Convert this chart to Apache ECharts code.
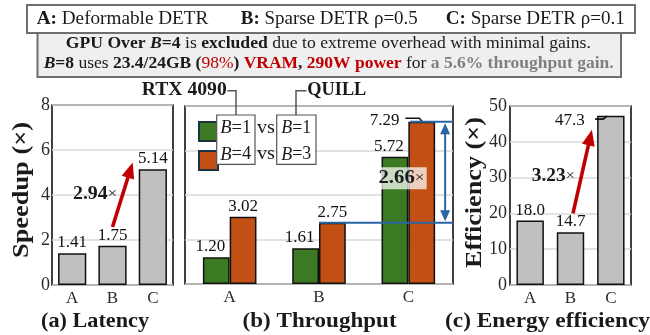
<!DOCTYPE html>
<html><head><meta charset="utf-8">
<script src="https://cdn.jsdelivr.net/npm/echarts@6/dist/echarts.min.js"></script>
<style>html,body{margin:0;padding:0;background:#fff}#c{width:650px;height:335px}</style>
</head><body><div id="c"></div>
<script>
// ---------------- data ----------------
const categories = ['A', 'B', 'C'];
const latencySpeedup = [1.41, 1.75, 5.14];
const throughputB1 = [1.20, 1.61, 5.72];
const throughputB4 = [3.02, 2.75, 7.29];
const energyEfficiency = [18.0, 14.7, 47.3];
const speedupAxis = { min: 0, max: 8, interval: 2 };
const throughputAxis = { min: 0, max: 8, interval: 2 };
const efficiencyAxis = { min: 0, max: 50, interval: 10 };
const latencyGain = '2.94';
const throughputGain = '2.66';
const efficiencyGain = '3.23';
const seriesNames = ['B=1 vs B=1', 'B=4 vs B=3'];

// ---------------- helpers ----------------
const FONT = 'Liberation Serif';
const DARK = '#1a1a1a';
const RED = '#c00000';
const BLUE = '#2966a3';
const mctx = document.createElement('canvas').getContext('2d');
function mw(t, size, weight, style) {
  mctx.font = (style || 'normal') + ' ' + (weight || 'normal') + ' ' + size + 'px "' + FONT + '"';
  return mctx.measureText(t).width;
}
// parts: [text, {w, s, c, f}]
function richText(parts, size) {
  let text = '', rich = {}, width = 0;
  parts.forEach((p, i) => {
    const o = p[1] || {};
    const fs = o.f || size;
    const name = 'p' + i;
    rich[name] = { fontFamily: FONT, fontSize: fs, fontWeight: o.w || 'normal', fontStyle: o.s || 'normal', fill: o.c || DARK };
    text += '{' + name + '|' + p[0] + '}';
    width += mw(p[0], fs, o.w, o.s);
  });
  return { text, rich, width };
}
function txt(parts, size, x, y, opts) {
  opts = opts || {};
  const r = richText(parts, size);
  const s = opts.width ? opts.width / r.width : 1;
  return {
    type: 'text', x: x, y: y, scaleX: s, rotation: opts.rotation || 0, z: 60,
    style: { text: r.text, rich: r.rich, fontFamily: FONT, fontSize: size, fill: DARK,
      align: opts.align || 'center', verticalAlign: 'middle' }
  };
}
function arrowHead(tx, ty, fx, fy, len, wid, color) {
  const a = Math.atan2(ty - fy, tx - fx);
  const bx = tx - len * Math.cos(a), by = ty - len * Math.sin(a);
  const nx = -Math.sin(a) * wid / 2, ny = Math.cos(a) * wid / 2;
  return { type: 'polygon', z: 61, shape: { points: [[tx, ty], [bx + nx, by + ny], [bx - nx, by - ny]] }, style: { fill: color } };
}
function arrow(x1, y1, x2, y2, color, lw, len, wid) {
  const a = Math.atan2(y2 - y1, x2 - x1);
  const ex = x2 - (len - 2) * Math.cos(a), ey = y2 - (len - 2) * Math.sin(a);
  return [
    { type: 'line', z: 60, shape: { x1: x1, y1: y1, x2: ex, y2: ey }, style: { stroke: color, lineWidth: lw } },
    arrowHead(x2, y2, x1, y1, len, wid, color)
  ];
}
function line(pts, color, lw, z) {
  return { type: 'polyline', z: z || 55, shape: { points: pts }, style: { stroke: color, lineWidth: lw, fill: null } };
}

// ---------------- chart ----------------
const chart = echarts.init(document.getElementById('c'), null, { renderer: 'canvas' });

const gridBase = { show: true, borderColor: '#111', borderWidth: 1.6, containLabel: false };
const xAxisBase = (gi) => ({
  type: 'category', gridIndex: gi, data: categories,
  axisLine: { show: false }, axisTick: { show: false },
  axisLabel: { fontFamily: FONT, fontSize: 17, color: '#2a2a2a', margin: 5 }
});
const yAxisBase = (gi, ax, showLabel, margin) => ({
  type: 'value', gridIndex: gi, min: ax.min, max: ax.max, interval: ax.interval,
  axisLine: { show: false }, axisTick: { show: false },
  axisLabel: { show: showLabel, fontFamily: FONT, fontSize: 18, color: '#2a2a2a', margin: margin },
  splitLine: { show: true, lineStyle: { color: '#d9d9d9', width: 1.5 } }
});
const labelBase = { show: true, position: 'top', distance: 2, fontFamily: FONT, fontSize: 17, color: '#111' };
const grayStyle = { color: '#c0c0c0', borderColor: '#111', borderWidth: 1.5 };

const option = {
  animation: false,
  backgroundColor: '#fff',
  grid: [
    Object.assign({ left: 52, top: 105, width: 121, height: 180 }, gridBase),
    Object.assign({ left: 185, top: 106, width: 268, height: 178 }, gridBase),
    Object.assign({ left: 510, top: 106, width: 121, height: 179 }, gridBase)
  ],
  xAxis: [xAxisBase(0), xAxisBase(1), xAxisBase(2)],
  yAxis: [yAxisBase(0, speedupAxis, true, 2), yAxisBase(1, throughputAxis, false, 2), yAxisBase(2, efficiencyAxis, true, 3)],
  legend: {
    orient: 'vertical', left: 193, top: 116, itemWidth: 19, itemHeight: 19, itemGap: 8,
    icon: 'rect', selectedMode: false, formatter: () => '',
    itemStyle: { borderColor: '#1c3343', borderWidth: 2 },
    data: seriesNames
  },
  series: [
    {
      type: 'bar', xAxisIndex: 0, yAxisIndex: 0, data: latencySpeedup, barWidth: '70%',
      itemStyle: grayStyle,
      label: Object.assign({ formatter: p => p.value.toFixed(2) }, labelBase)
    },
    {
      name: seriesNames[0], type: 'bar', xAxisIndex: 1, yAxisIndex: 1, data: throughputB1,
      barWidth: '30%', barGap: '0%',
      itemStyle: { color: '#3b7a23', borderColor: '#111', borderWidth: 1.5 },
      label: Object.assign({ formatter: p => p.value.toFixed(2), offset: [-6, 0] }, labelBase)
    },
    {
      name: seriesNames[1], type: 'bar', xAxisIndex: 1, yAxisIndex: 1,
      data: throughputB4.map((v, i) => i === 2 ? { value: v, label: { offset: [-37, 9] } } : v),
      barWidth: '30%', barGap: '0%',
      itemStyle: { color: '#c24f14', borderColor: '#111', borderWidth: 1.5 },
      label: Object.assign({ formatter: p => p.value.toFixed(2) }, labelBase)
    },
    {
      type: 'bar', xAxisIndex: 2, yAxisIndex: 2,
      data: energyEfficiency.map((v, i) => i === 2 ? { value: v, label: { offset: [-41, 15] } } : v),
      barWidth: '68%',
      itemStyle: grayStyle,
      label: Object.assign({ formatter: p => p.value.toFixed(1) }, labelBase)
    }
  ]
};
chart.setOption(option);

// ------------- annotations positioned through the chart's own scales -------------
function barRect(si, di) {
  const l = chart.getModel().getSeriesByIndex(si).getData().getItemLayout(di);
  return { left: Math.min(l.x, l.x + l.width), right: Math.max(l.x, l.x + l.width),
           top: Math.min(l.y, l.y + l.height), bottom: Math.max(l.y, l.y + l.height) };
}
function px(gi, cat, val) { return chart.convertToPixel({ xAxisIndex: gi, yAxisIndex: gi }, [cat, val]); }
function catX(gi, c) { return px(gi, c, 0)[0]; }
function valY(gi, v) { return px(gi, 0, v)[1]; }

const g = [];
// header boxes
g.push({ type: 'rect', z: 40, shape: { x: 27, y: 5, width: 608, height: 28 }, style: { fill: '#fff', stroke: '#6e6e6e', lineWidth: 2 } });
g.push({ type: 'rect', z: 41, shape: { x: 37.5, y: 33, width: 583.5, height: 44 }, style: { fill: '#efefef', stroke: '#6e6e6e', lineWidth: 2 } });
g.push(txt([['A:', { w: 'bold' }], [' Deformable DETR']], 18, 36.7, 19.5, { align: 'left', width: 171.6 }));
g.push(txt([['B:', { w: 'bold' }], [' Sparse DETR ρ=0.5']], 18, 240.8, 19.5, { align: 'left', width: 177 }));
g.push(txt([['C:', { w: 'bold' }], [' Sparse DETR ρ=0.1']], 18, 445.8, 19.5, { align: 'left', width: 179 }));
g.push(txt([
  ['GPU Over ', { w: 'bold' }], ['B', { w: 'bold', s: 'italic' }], ['=4', { w: 'bold' }], [' is '],
  ['excluded', { w: 'bold' }], [' due to extreme overhead with minimal gains.']
], 16, 328.3, 44, { width: 525 }));
g.push(txt([
  ['B', { w: 'bold', s: 'italic' }], ['=8', { w: 'bold' }], [' uses '], ['23.4/24GB', { w: 'bold' }],
  [' (', { w: 'bold' }], ['98%', { c: RED }], [')', { w: 'bold' }], [' '], ['VRAM', { w: 'bold', c: RED }],
  [', ', { w: 'bold' }], ['290W power', { w: 'bold', c: RED }], [' for '],
  ['a 5.6% throughput gain.', { w: 'bold', c: '#7f7f7f' }]
], 16, 328.7, 64, { width: 570 }));

// panel titles
g.push(txt([['(a) Latency', { w: 'bold' }]], 21, 95, 322, { width: 108 }));
g.push(txt([['(b) Throughput', { w: 'bold' }]], 21, 319.6, 322, { width: 154 }));
g.push(txt([['(c) Energy efficiency', { w: 'bold' }]], 21, 547.5, 322, { width: 205 }));
// y-axis names
g.push(txt([['Speedup (×)', { w: 'bold' }]], 23, 22, 190, { width: 136, rotation: Math.PI / 2 }));
g.push(txt([['Efficiency (×)', { w: 'bold' }]], 23, 475, 192.5, { width: 151, rotation: Math.PI / 2 }));

// legend boxes, text and callouts
g.push({ type: 'rect', z: 50, shape: { x: 216.7, y: 115, width: 38.3, height: 49.3 }, style: { fill: '#fff', stroke: '#555', lineWidth: 1.2 } });
g.push({ type: 'rect', z: 50, shape: { x: 276.7, y: 115, width: 39.3, height: 49.3 }, style: { fill: '#fff', stroke: '#555', lineWidth: 1.2 } });
const bi = { s: 'italic' };
g.push(txt([['B', bi], ['=1']], 19, 235.8, 128, { width: 31 }));
g.push(txt([['B', bi], ['=4']], 19, 235.8, 154.5, { width: 31 }));
g.push(txt([['vs']], 19, 266, 128, { width: 18 }));
g.push(txt([['vs']], 19, 266, 154.5, { width: 18 }));
g.push(txt([['B', bi], ['=1']], 19, 296.3, 128, { width: 30 }));
g.push(txt([['B', bi], ['=3']], 19, 296.3, 154.5, { width: 30 }));
g.push(txt([['RTX 4090', { w: 'bold' }]], 19, 226.7, 90, { align: 'right', width: 85 }));
g.push(txt([['QUILL', { w: 'bold' }]], 19, 307.3, 90, { align: 'left', width: 59 }));
g.push(line([[227.5, 90.7], [236, 90.7], [236, 115]], '#555', 1.5, 51));
g.push(line([[306.5, 90.7], [296, 90.7], [296, 115]], '#555', 1.5, 51));

// (a) red arrow B -> C
{
  const xB = catX(0, 'B'), xC = catX(0, 'C');
  g.push(...arrow(xB, valY(0, 2.58), xB + 0.5 * (xC - xB), valY(0, 5.45), RED, 3.6, 16, 13));
  g.push(txt([[latencyGain, { w: 'bold' }], ['×', { f: 15 }]], 18, 95, 194, { width: 44 }));
}
// (c) red arrow B -> C
{
  const xB = catX(2, 'B'), xC = catX(2, 'C');
  g.push(...arrow(xB + 2.5, valY(2, 20.0), xB + 0.53 * (xC - xB), valY(2, 43.4), RED, 3.6, 16, 13));
  g.push(txt([[efficiencyGain, { w: 'bold' }], ['×', { f: 15 }]], 18, 553.3, 176, { width: 43 }));
  const rc = barRect(3, 2);
  g.push(line([[rc.left - 2, rc.top + 3.5], [rc.left + 6, rc.top + 3.5], [rc.left + 10, rc.top + 0.5]], '#111', 1.6, 56));
}
// (b) dimension arrow between B=4 bars of B and C
{
  const rB = barRect(2, 1), rC = barRect(2, 2);
  const xEnd = rC.right + 18, xArr = rC.right + 10;
  g.push(line([[rC.left + 2, rC.top], [xEnd, rC.top]], BLUE, 2, 57));
  g.push(line([[rB.left, rB.top], [xEnd, rB.top]], BLUE, 2, 57));
  g.push({ type: 'line', z: 57, shape: { x1: xArr, y1: rC.top + 10, x2: xArr, y2: rB.top - 10 }, style: { stroke: BLUE, lineWidth: 2 } });
  g.push(arrowHead(xArr, rC.top + 1.5, xArr, rB.top, 11, 10, BLUE));
  g.push(arrowHead(xArr, rB.top - 1.5, xArr, rC.top, 11, 10, BLUE));
  g.push({ type: 'rect', z: 58, shape: { x: 376.7, y: 167.3, width: 50, height: 22 }, style: { fill: 'rgba(255,255,255,0.72)' } });
  g.push(txt([[throughputGain, { w: 'bold' }], ['×', { f: 15 }]], 18, 401.5, 178.5, { width: 46 }));
  // guide line of the 7.29 label
  g.push(line([[rC.left - 3, rC.top - 3.5], [rC.left + 11, rC.top - 3.5], [rC.left + 14, rC.top]], '#111', 1.6, 56));
}
chart.setOption({ graphic: { elements: g } });
</script>
</body></html>
